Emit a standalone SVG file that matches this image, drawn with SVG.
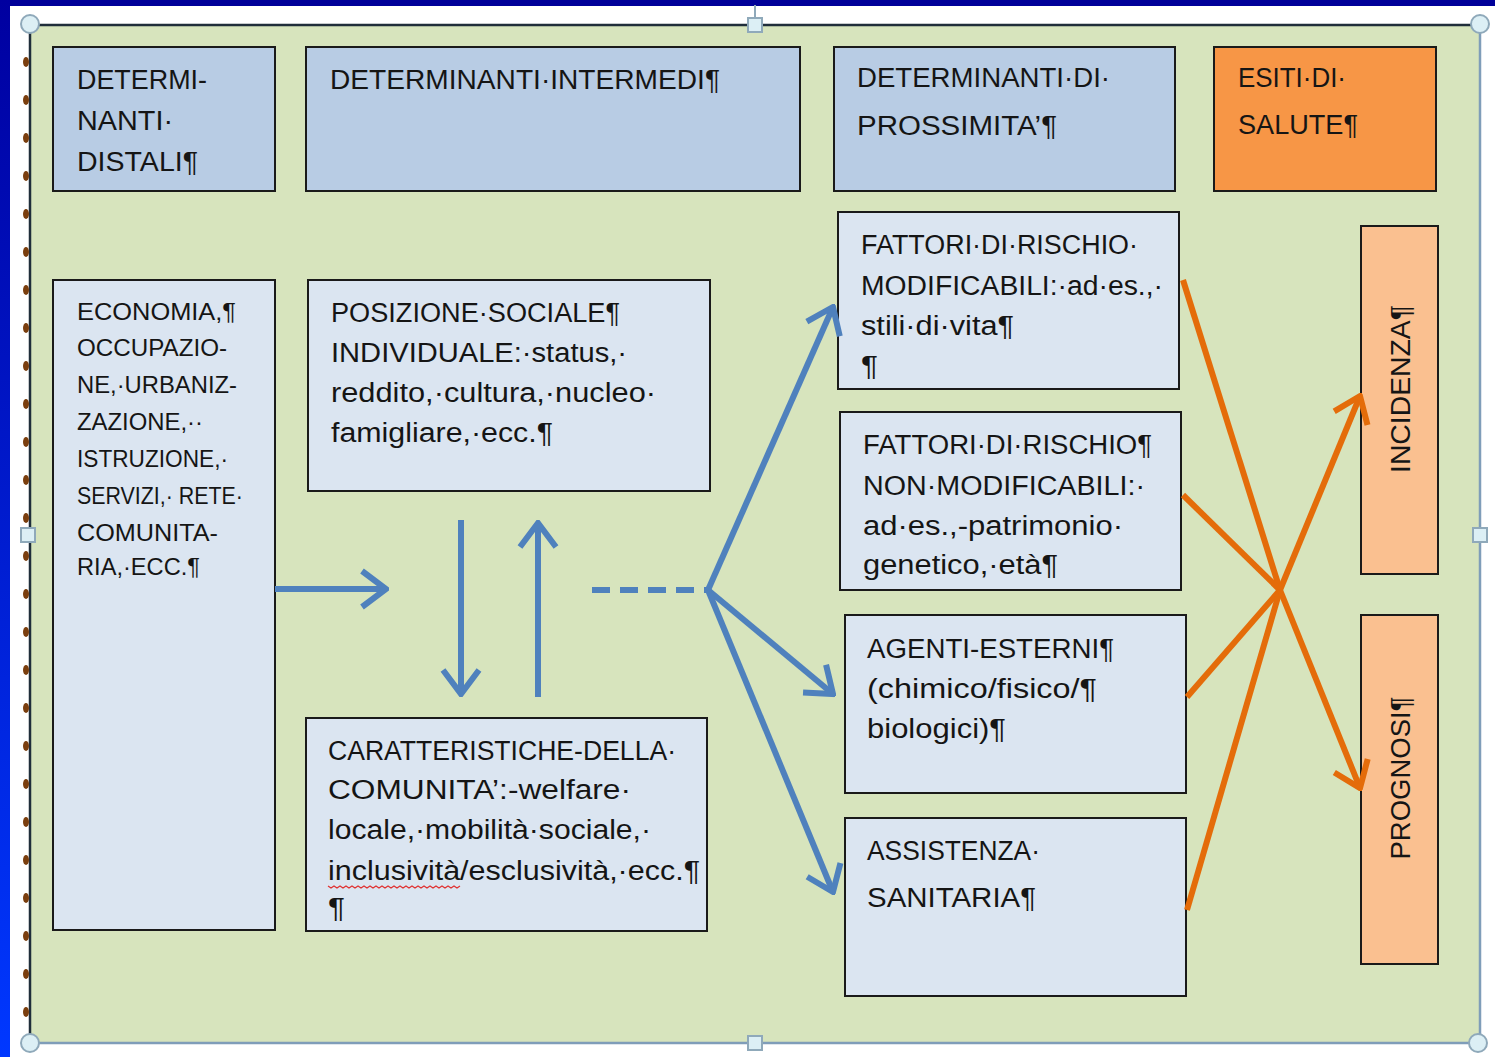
<svg xmlns="http://www.w3.org/2000/svg" width="1495" height="1057" viewBox="0 0 1495 1057">
<defs>
<linearGradient id="lg" x1="0" y1="0" x2="0" y2="1">
<stop offset="0" stop-color="#0000A0"/>
<stop offset="1" stop-color="#0038FF"/>
</linearGradient>
<marker id="ab" viewBox="0 0 10 14" refX="9" refY="7" markerWidth="5" markerHeight="7" orient="auto" markerUnits="strokeWidth">
<path d="M1,1 L9,7 L1,13" fill="none" stroke="#4F81BD" stroke-width="2"/>
</marker>
<marker id="ao" viewBox="0 0 10 14" refX="9" refY="7" markerWidth="5" markerHeight="7" orient="auto" markerUnits="strokeWidth">
<path d="M1,1 L9,7 L1,13" fill="none" stroke="#E46C0A" stroke-width="2"/>
</marker>
</defs>
<style>
.t{font-family:"Liberation Sans",Arial,sans-serif;font-size:27px;fill:#151515}
.s{font-size:24px}
.hd{fill:#B8CCE4;stroke:#1a1a1a;stroke-width:2}
.bx{fill:#DBE5F1;stroke:#1a1a1a;stroke-width:2}
.or{fill:#F79646;stroke:#1a1a1a;stroke-width:2}
.po{fill:#FAC090;stroke:#1a1a1a;stroke-width:2}
.bl{fill:none;stroke:#4F81BD;stroke-width:6}
.ol{fill:none;stroke:#E46C0A;stroke-width:6}
.hc{fill:#DCEFF5;stroke:#8FA9BA;stroke-width:2}
.dot{fill:#7A3E0E}
</style>
<rect x="0" y="0" width="1495" height="1057" fill="#FFFFFF"/>
<rect x="0" y="0" width="1495" height="6" fill="#000099"/>
<rect x="0" y="0" width="10" height="1057" fill="url(#lg)"/>
<g id="frame">
<rect x="30" y="25" width="1450" height="1018" fill="#D7E4BD"/>
<line x1="30" y1="25" x2="1480" y2="25" stroke="#1F2D3A" stroke-width="2.5"/>
<line x1="30" y1="25" x2="30" y2="1043" stroke="#1F2D3A" stroke-width="2.5"/>
<line x1="1480" y1="25" x2="1480" y2="1043" stroke="#7F9DB9" stroke-width="2.5"/>
<line x1="30" y1="1043" x2="1480" y2="1043" stroke="#7F9DB9" stroke-width="2.5"/>
<line x1="755" y1="5" x2="755" y2="18" stroke="#8FA9BA" stroke-width="2"/>
<g class="dot">
<ellipse cx="26" cy="62" rx="3" ry="5"/><ellipse cx="26" cy="100" rx="3" ry="5"/><ellipse cx="26" cy="138" rx="3" ry="5"/><ellipse cx="26" cy="176" rx="3" ry="5"/><ellipse cx="26" cy="214" rx="3" ry="5"/><ellipse cx="26" cy="252" rx="3" ry="5"/><ellipse cx="26" cy="290" rx="3" ry="5"/><ellipse cx="26" cy="328" rx="3" ry="5"/><ellipse cx="26" cy="366" rx="3" ry="5"/><ellipse cx="26" cy="404" rx="3" ry="5"/><ellipse cx="26" cy="442" rx="3" ry="5"/><ellipse cx="26" cy="480" rx="3" ry="5"/><ellipse cx="26" cy="518" rx="3" ry="5"/><ellipse cx="26" cy="556" rx="3" ry="5"/><ellipse cx="26" cy="594" rx="3" ry="5"/><ellipse cx="26" cy="632" rx="3" ry="5"/><ellipse cx="26" cy="670" rx="3" ry="5"/><ellipse cx="26" cy="708" rx="3" ry="5"/><ellipse cx="26" cy="746" rx="3" ry="5"/><ellipse cx="26" cy="784" rx="3" ry="5"/><ellipse cx="26" cy="822" rx="3" ry="5"/><ellipse cx="26" cy="860" rx="3" ry="5"/><ellipse cx="26" cy="898" rx="3" ry="5"/><ellipse cx="26" cy="936" rx="3" ry="5"/><ellipse cx="26" cy="974" rx="3" ry="5"/><ellipse cx="26" cy="1012" rx="3" ry="5"/>
</g>
<circle class="hc" cx="30" cy="24" r="9"/>
<circle class="hc" cx="1480" cy="24" r="9"/>
<circle class="hc" cx="30" cy="1043" r="9"/>
<circle class="hc" cx="1478" cy="1043" r="9"/>
<rect class="hc" x="748" y="18" width="14" height="14"/>
<rect class="hc" x="21" y="528" width="14" height="14"/>
<rect class="hc" x="1473" y="528" width="14" height="14"/>
<rect class="hc" x="748" y="1036" width="14" height="14"/>
</g>
<g id="h-distali">
<rect class="hd" x="53" y="47" width="222" height="144"/>
<text class="t"><tspan x="77" y="89" textLength="130" lengthAdjust="spacingAndGlyphs">DETERMI-</tspan><tspan x="77" y="130" textLength="96" lengthAdjust="spacingAndGlyphs">NANTI·</tspan><tspan x="77" y="171" textLength="121" lengthAdjust="spacingAndGlyphs">DISTALI¶</tspan></text>
</g>
<g id="h-intermedi">
<rect class="hd" x="306" y="47" width="494" height="144"/>
<text class="t" x="330" y="89" textLength="390" lengthAdjust="spacingAndGlyphs">DETERMINANTI·INTERMEDI¶</text>
</g>
<g id="h-prossimita">
<rect class="hd" x="834" y="47" width="341" height="144"/>
<text class="t"><tspan x="857" y="87" textLength="253" lengthAdjust="spacingAndGlyphs">DETERMINANTI·DI·</tspan><tspan x="857" y="135" textLength="200" lengthAdjust="spacingAndGlyphs">PROSSIMITA’¶</tspan></text>
</g>
<g id="h-esiti">
<rect class="or" x="1214" y="47" width="222" height="144"/>
<text class="t"><tspan x="1238" y="87" textLength="108" lengthAdjust="spacingAndGlyphs">ESITI·DI·</tspan><tspan x="1238" y="134" textLength="120" lengthAdjust="spacingAndGlyphs">SALUTE¶</tspan></text>
</g>
<g id="n-economia">
<rect class="bx" x="53" y="280" width="222" height="650"/>
<text class="t s"><tspan x="77" y="320" textLength="159" lengthAdjust="spacingAndGlyphs">ECONOMIA,¶</tspan><tspan x="77" y="356" textLength="150" lengthAdjust="spacingAndGlyphs">OCCUPAZIO-</tspan><tspan x="77" y="393" textLength="160" lengthAdjust="spacingAndGlyphs">NE,·URBANIZ-</tspan><tspan x="77" y="430" textLength="126" lengthAdjust="spacingAndGlyphs">ZAZIONE,··</tspan><tspan x="77" y="467" textLength="151" lengthAdjust="spacingAndGlyphs">ISTRUZIONE,·</tspan><tspan x="77" y="504" textLength="166" lengthAdjust="spacingAndGlyphs">SERVIZI,· RETE·</tspan><tspan x="77" y="541" textLength="141" lengthAdjust="spacingAndGlyphs">COMUNITA-</tspan><tspan x="77" y="575" textLength="123" lengthAdjust="spacingAndGlyphs">RIA,·ECC.¶</tspan></text>
</g>
<g id="n-posizione">
<rect class="bx" x="308" y="280" width="402" height="211"/>
<text class="t"><tspan x="331" y="322" textLength="289" lengthAdjust="spacingAndGlyphs">POSIZIONE·SOCIALE¶</tspan><tspan x="331" y="362" textLength="296" lengthAdjust="spacingAndGlyphs">INDIVIDUALE:·status,·</tspan><tspan x="331" y="402" textLength="325" lengthAdjust="spacingAndGlyphs">reddito,·cultura,·nucleo·</tspan><tspan x="331" y="442" textLength="222" lengthAdjust="spacingAndGlyphs">famigliare,·ecc.¶</tspan></text>
</g>
<g id="n-comunita">
<rect class="bx" x="306" y="718" width="401" height="213"/>
<text class="t"><tspan x="328" y="760" textLength="348" lengthAdjust="spacingAndGlyphs">CARATTERISTICHE-DELLA·</tspan><tspan x="328" y="799" textLength="303" lengthAdjust="spacingAndGlyphs">COMUNITA’:-welfare·</tspan><tspan x="328" y="839" textLength="323" lengthAdjust="spacingAndGlyphs">locale,·mobilità·sociale,·</tspan><tspan x="328" y="880" textLength="372" lengthAdjust="spacingAndGlyphs">inclusività/esclusività,·ecc.¶</tspan><tspan x="328" y="917" textLength="17" lengthAdjust="spacingAndGlyphs">¶</tspan></text>
<path d="M328,886 l3,2 l3,-2 l3,2 l3,-2 l3,2 l3,-2 l3,2 l3,-2 l3,2 l3,-2 l3,2 l3,-2 l3,2 l3,-2 l3,2 l3,-2 l3,2 l3,-2 l3,2 l3,-2 l3,2 l3,-2 l3,2 l3,-2 l3,2 l3,-2 l3,2 l3,-2 l3,2 l3,-2 l3,2 l3,-2 l3,2 l3,-2 l3,2 l3,-2 l3,2 l3,-2 l3,2 l3,-2 l3,2 l3,-2 l3,2 l3,-2" fill="none" stroke="#E03030" stroke-width="1.2"/>
</g>
<g id="n-modificabili">
<rect class="bx" x="838" y="212" width="341" height="177"/>
<text class="t"><tspan x="861" y="254" textLength="277" lengthAdjust="spacingAndGlyphs">FATTORI·DI·RISCHIO·</tspan><tspan x="861" y="295" textLength="302" lengthAdjust="spacingAndGlyphs">MODIFICABILI:·ad·es.,·</tspan><tspan x="861" y="335" textLength="153" lengthAdjust="spacingAndGlyphs">stili·di·vita¶</tspan><tspan x="861" y="375" textLength="17" lengthAdjust="spacingAndGlyphs">¶</tspan></text>
</g>
<g id="n-nonmodificabili">
<rect class="bx" x="840" y="412" width="341" height="178"/>
<text class="t"><tspan x="863" y="454" textLength="289" lengthAdjust="spacingAndGlyphs">FATTORI·DI·RISCHIO¶</tspan><tspan x="863" y="495" textLength="282" lengthAdjust="spacingAndGlyphs">NON·MODIFICABILI:·</tspan><tspan x="863" y="535" textLength="260" lengthAdjust="spacingAndGlyphs">ad·es.,-patrimonio·</tspan><tspan x="863" y="574" textLength="195" lengthAdjust="spacingAndGlyphs">genetico,·età¶</tspan></text>
</g>
<g id="n-agenti">
<rect class="bx" x="845" y="615" width="341" height="178"/>
<text class="t"><tspan x="867" y="658" textLength="247" lengthAdjust="spacingAndGlyphs">AGENTI-ESTERNI¶</tspan><tspan x="867" y="698" textLength="230" lengthAdjust="spacingAndGlyphs">(chimico/fisico/¶</tspan><tspan x="867" y="738" textLength="139" lengthAdjust="spacingAndGlyphs">biologici)¶</tspan></text>
</g>
<g id="n-assistenza">
<rect class="bx" x="845" y="818" width="341" height="178"/>
<text class="t"><tspan x="867" y="860" textLength="173" lengthAdjust="spacingAndGlyphs">ASSISTENZA·</tspan><tspan x="867" y="907" textLength="169" lengthAdjust="spacingAndGlyphs">SANITARIA¶</tspan></text>
</g>
<g id="n-incidenza">
<rect class="po" x="1361" y="226" width="77" height="348"/>
<text class="t" transform="translate(1410,389) rotate(-90)" x="0" y="0" text-anchor="middle" textLength="168" lengthAdjust="spacingAndGlyphs">INCIDENZA¶</text>
</g>
<g id="n-prognosi">
<rect class="po" x="1361" y="615" width="77" height="349"/>
<text class="t" transform="translate(1410,778) rotate(-90)" x="0" y="0" text-anchor="middle" textLength="163" lengthAdjust="spacingAndGlyphs">PROGNOSI¶</text>
</g>
<g id="connectors">
<path class="bl" d="M275,589 L386,589" marker-end="url(#ab)"/>
<path class="bl" d="M461,520 L461,694" marker-end="url(#ab)"/>
<path class="bl" d="M538,697 L538,523" marker-end="url(#ab)"/>
<path class="bl" d="M592,590 L708,590" stroke-dasharray="18 10"/>
<path class="bl" d="M708,590 L833,307" marker-end="url(#ab)"/>
<path class="bl" d="M708,590 L833,694" marker-end="url(#ab)"/>
<path class="bl" d="M708,590 L833,892" marker-end="url(#ab)"/>
<path class="ol" d="M1183,280 L1280,590"/>
<path class="ol" d="M1183,495 L1280,590"/>
<path class="ol" d="M1187,697 L1280,590"/>
<path class="ol" d="M1187,910 L1280,590"/>
<path class="ol" d="M1280,590 L1360,396" marker-end="url(#ao)"/>
<path class="ol" d="M1280,590 L1360,788" marker-end="url(#ao)"/>
</g>
</svg>
